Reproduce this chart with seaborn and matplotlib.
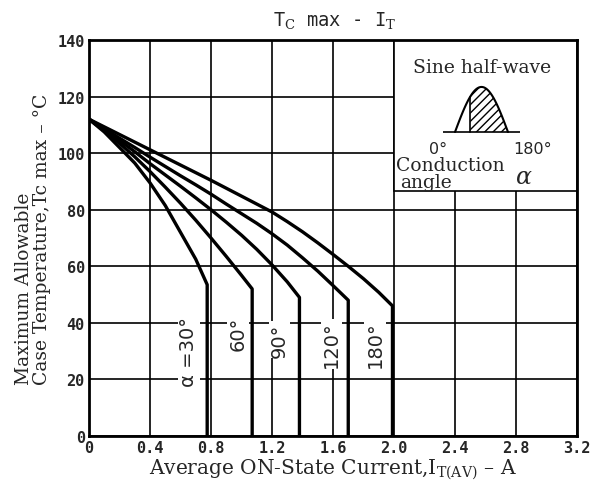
import numpy as np
import pandas as pd
import matplotlib
matplotlib.use("Agg")
import matplotlib.pyplot as plt
import seaborn as sns
from matplotlib.patches import Rectangle

# ---------------- data ----------------
angle_labels = ["α =30°", "60°", "90°", "120°", "180°"]

i_30 = [0, 0.1, 0.2, 0.3, 0.4, 0.5, 0.6, 0.7, 0.775, 0.775]
t_30 = [112, 107.5, 102, 96.5, 89.5, 81.5, 72, 62.5, 53.5, 0]

i_60 = [0, 0.1, 0.2, 0.3, 0.4, 0.5, 0.6, 0.7, 0.8, 0.9, 1.0, 1.07, 1.07]
t_60 = [112, 108, 103.5, 98.7, 93.5, 88, 82.3, 76.3, 70, 63.5, 56.8, 52, 0]

i_90 = [0, 0.1, 0.2, 0.3, 0.4, 0.5, 0.6, 0.7, 0.8, 0.9, 1.0, 1.1, 1.2, 1.3, 1.38, 1.38]
t_90 = [112, 108.3, 104.5, 100.5, 96.3, 92.3, 88.3, 84.2, 80, 75.6, 71, 66, 60.5, 54.5, 49, 0]

i_120 = [0, 0.1, 0.2, 0.3, 0.4, 0.5, 0.6, 0.7, 0.8, 0.9, 1.0, 1.1, 1.2, 1.3, 1.4, 1.5,
         1.6, 1.7, 1.7]
t_120 = [112, 108.6, 105.3, 102, 98.6, 95.3, 92, 88.8, 85.5, 82, 78.6, 75.2, 71.5, 67.5,
         63, 58.3, 53.2, 48, 0]

i_180 = [0, 0.1, 0.2, 0.3, 0.4, 0.5, 0.6, 0.7, 0.8, 0.9, 1.0, 1.1, 1.2, 1.3, 1.4, 1.5,
         1.6, 1.7, 1.8, 1.9, 1.99, 1.99]
t_180 = [112, 109.3, 106.6, 103.9, 101.2, 98.5, 95.8, 93.1, 90.4, 87.6, 84.8, 82, 79.2,
         75.8, 72.2, 68.3, 64.2, 60, 55.6, 50.8, 46, 0]

label_x = [0.655, 0.975, 1.25, 1.59, 1.875]
label_t = [30, 36.5, 34, 32.5, 32.5]

x_ticks = [0, 0.4, 0.8, 1.2, 1.6, 2.0, 2.4, 2.8, 3.2]
x_tick_labels = ["0", "0.4", "0.8", "1.2", "1.6", "2.0", "2.4", "2.8", "3.2"]
y_ticks = [0, 20, 40, 60, 80, 100, 120, 140]
y_tick_labels = ["0", "20", "40", "60", "80", "100", "120", "140"]

curves = [(i_30, t_30), (i_60, t_60), (i_90, t_90), (i_120, t_120), (i_180, t_180)]
rows = []
for lab, (xs, ts) in zip(angle_labels, curves):
    for k, (a, b) in enumerate(zip(xs, ts)):
        rows.append({"angle": lab, "order": k, "I": a, "T": b})
df = pd.DataFrame(rows)

# ---------------- figure ----------------
sns.set_theme(style="white")
plt.rcParams["font.family"] = ["DejaVu Serif", "DejaVu Sans"]
plt.rcParams["mathtext.fontset"] = "custom"
plt.rcParams["mathtext.rm"] = "DejaVu Serif"

fig = plt.figure(figsize=(5.95, 4.89), dpi=100)
ax = fig.add_axes([89 / 595, 1 - 437 / 489, (577 - 89) / 595, (437 - 41) / 489])

ax.set_xlim(0, 3.2)
ax.set_ylim(0, 140)
ax.set_xticks(x_ticks)
ax.set_yticks(y_ticks)
ax.set_xticklabels(x_tick_labels, family="DejaVu Sans Mono", fontweight="bold", fontsize=11)
ax.set_yticklabels(y_tick_labels, family="DejaVu Sans Mono", fontweight="bold", fontsize=11)
ax.tick_params(length=0, pad=3)
ax.set_axisbelow(True)
ax.grid(True, color="black", linewidth=1.2, zorder=0.5)
for s in ax.spines.values():
    s.set_color("black")
    s.set_linewidth(2.0)

for lab in angle_labels:
    sub = df[df["angle"] == lab]
    sns.lineplot(data=sub, x="I", y="T", sort=False, estimator=None,
                 color="black", linewidth=2.4, ax=ax, zorder=3)

for lab, lx, lt in zip(angle_labels, label_x, label_t):
    ax.text(lx, lt, lab, rotation=90, ha="center", va="center", fontsize=14,
            family="DejaVu Sans", zorder=4,
            bbox=dict(facecolor="white", edgecolor="none", pad=1.0))

# inset box (legend-like)
ax.add_patch(Rectangle((2.0, 86.5), 1.2, 53.5, facecolor="white", edgecolor="black",
                       linewidth=1.2, zorder=1))
ax.text(2.58, 130.5, "Sine half-wave", ha="center", va="center", fontsize=13.5, zorder=4)
ax.text(2.29, 101.5, "0°", ha="center", va="center", fontsize=11.5, family="DejaVu Sans", zorder=4)
ax.text(2.91, 101.5, "180°", ha="center", va="center", fontsize=11.5, family="DejaVu Sans", zorder=4)
ax.text(2.015, 95.8, "Conduction", ha="left", va="center", fontsize=13.5, zorder=4)
ax.text(2.04, 89.8, "angle", ha="left", va="center", fontsize=13.5, zorder=4)
ax.text(2.85, 91.6, "α", ha="center", va="center", fontsize=17, style="italic", zorder=4)

# sine half-wave icon
iax = fig.add_axes([443 / 595, 1 - 134 / 489, 77 / 595, 49 / 489])
iax.set_xlim(0, 1)
iax.set_ylim(0, 1)
iax.axis("off")
u = np.linspace(0.156, 0.844, 60)
v = 0.92 * np.sin((u - 0.156) / (0.844 - 0.156) * np.pi)
iax.plot([0, 1], [0.02, 0.02], color="black", lw=1.2)
iax.plot(u, v + 0.02, color="black", lw=1.5)
m = u >= 0.35
iax.fill_between(u[m], 0.02, v[m] + 0.02, facecolor="none", edgecolor="black",
                 hatch="////", linewidth=0)
vx = u[m][0]
iax.plot([vx, vx], [0.02, v[m][0] + 0.02], color="black", lw=1.2)

ax.set_xlabel("Average ON-State Current,I$_{\\mathrm{T(AV)}}$ – A", fontsize=14.5, labelpad=1)
ax.set_ylabel("Maximum Allowable\nCase Temperature,Tc max – °C", fontsize=13.5, labelpad=5,
              linespacing=1.0, multialignment="left")
fig.text(335 / 595, 1 - 21 / 489, "T$_{\\mathrm{C}}$ max - I$_{\\mathrm{T}}$", ha="center",
         va="center", fontsize=13.5, family="DejaVu Sans Mono")

fig.savefig("out.png", dpi=100)
